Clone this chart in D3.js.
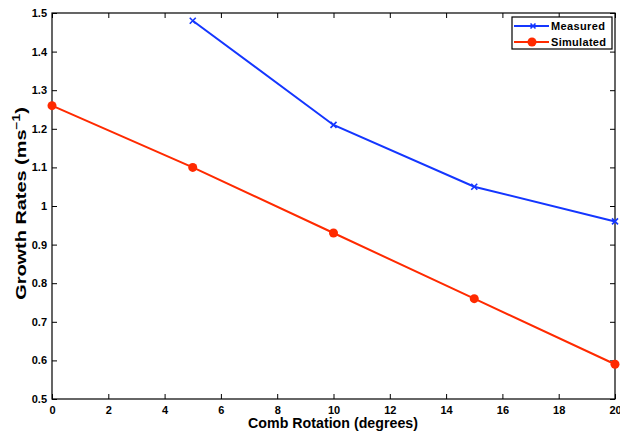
<!DOCTYPE html>
<html>
<head>
<meta charset="utf-8">
<script src="https://cdn.jsdelivr.net/npm/d3@7"></script>
<style>
  body { margin: 0; background: #fff; }
  text { font-family: "Liberation Sans", Arial, sans-serif; font-weight: bold; }
</style>
</head>
<body>
<svg width="620" height="433"></svg>
<script>
// data
const measuredX = [5, 10, 15, 20];
const measuredY = [1.48, 1.21, 1.05, 0.96];
const simulatedX = [0, 5, 10, 15, 20];
const simulatedY = [1.26, 1.10, 0.93, 0.76, 0.59];
const xTicks = [0, 2, 4, 6, 8, 10, 12, 14, 16, 18, 20];
const yTicks = [0.5, 0.6, 0.7, 0.8, 0.9, 1, 1.1, 1.2, 1.3, 1.4, 1.5];

const blue = "#1436ff";
const red = "#ff2a00";

const svg = d3.select("svg");
const L = 52, R = 615, T = 13, B = 399;

const x = d3.scaleLinear().domain([0, 20]).range([L, R]);
const y = d3.scaleLinear().domain([0.5, 1.5]).range([B, T]);

// ticks point inward, on all four sides (matlab box)
const tk = 5;
svg.append("g").attr("transform", `translate(0,${B})`)
  .call(d3.axisBottom(x).tickValues(xTicks).tickSizeInner(-tk).tickSizeOuter(0).tickPadding(7).tickFormat(d3.format("d")))
  .call(g => g.select(".domain").remove());
svg.append("g").attr("transform", `translate(0,${T})`)
  .call(d3.axisTop(x).tickValues(xTicks).tickSizeInner(-tk).tickSizeOuter(0).tickFormat(""))
  .call(g => g.select(".domain").remove());
svg.append("g").attr("transform", `translate(${L},0)`)
  .call(d3.axisLeft(y).tickValues(yTicks).tickSizeInner(-tk).tickSizeOuter(0).tickPadding(5).tickFormat(d => d3.format("")(d)))
  .call(g => g.select(".domain").remove());
svg.append("g").attr("transform", `translate(${R},0)`)
  .call(d3.axisRight(y).tickValues(yTicks).tickSizeInner(-tk).tickSizeOuter(0).tickFormat(""))
  .call(g => g.select(".domain").remove());

svg.selectAll(".tick text").attr("font-size", 11).attr("fill", "#000")
  .style("font-family", "'Liberation Sans', Arial, sans-serif").style("font-weight", "bold");
svg.selectAll(".tick line").attr("stroke", "#000");

svg.append("rect").attr("x", L).attr("y", T).attr("width", R - L).attr("height", B - T)
  .attr("fill", "none").attr("stroke", "#000").attr("stroke-width", 1.2);

const line = d3.line().x(d => x(d[0])).y(d => y(d[1]));
const meas = measuredX.map((v, i) => [v, measuredY[i]]);
const sim = simulatedX.map((v, i) => [v, simulatedY[i]]);

svg.append("path").datum(meas).attr("d", line).attr("fill", "none").attr("stroke", blue).attr("stroke-width", 2);
svg.selectAll(".mx").data(meas).enter().append("path")
  .attr("d", d => { const cx = x(d[0]), cy = y(d[1]), s = 3;
    return `M${cx - s},${cy - s}L${cx + s},${cy + s}M${cx - s},${cy + s}L${cx + s},${cy - s}`; })
  .attr("stroke", blue).attr("stroke-width", 1.6);

svg.append("path").datum(sim).attr("d", line).attr("fill", "none").attr("stroke", red).attr("stroke-width", 2);
svg.selectAll(".sc").data(sim).enter().append("circle")
  .attr("cx", d => x(d[0])).attr("cy", d => y(d[1])).attr("r", 4.5).attr("fill", red);

// legend
const lg = svg.append("g");
lg.append("rect").attr("x", 512).attr("y", 17).attr("width", 100).attr("height", 32)
  .attr("fill", "#fff").attr("stroke", "#000").attr("stroke-width", 1.2);
const items = [["Measured", blue, "x", 54], ["Simulated", red, "o", 55]];
items.forEach((it, i) => {
  const yy = 26 + i * 16;
  lg.append("line").attr("x1", 514).attr("x2", 549).attr("y1", yy).attr("y2", yy).attr("stroke", it[1]).attr("stroke-width", 2);
  if (it[2] === "x") {
    lg.append("path").attr("d", `M530.5,${yy - 2.5}L535.5,${yy + 2.5}M530.5,${yy + 2.5}L535.5,${yy - 2.5}`)
      .attr("stroke", it[1]).attr("stroke-width", 1.6);
  } else {
    lg.append("circle").attr("cx", 532).attr("cy", yy).attr("r", 4.5).attr("fill", it[1]);
  }
  lg.append("text").attr("x", 551).attr("y", yy + 4).attr("font-size", 11)
    .attr("textLength", it[3]).attr("lengthAdjust", "spacing").text(it[0]);
});

// axis titles, stretched to the width seen in the picture
const xl = svg.append("text").attr("font-size", 14).attr("text-anchor", "middle").text("Comb Rotation (degrees)");
const xw = xl.node().getComputedTextLength();
xl.attr("transform", `translate(333,428) scale(${170 / xw},1)`);

const yl = svg.append("text").attr("text-anchor", "middle").attr("font-size", 14.5);
yl.append("tspan").text("Growth Rates (ms");
yl.append("tspan").attr("dy", -6).attr("font-size", 10).text("−1");
yl.append("tspan").attr("dy", 6).text(")");
const yw = yl.node().getBBox().width;
yl.attr("transform", `translate(26,203.5) rotate(-90) scale(${193 / yw},1)`);
</script>
</body>
</html>
